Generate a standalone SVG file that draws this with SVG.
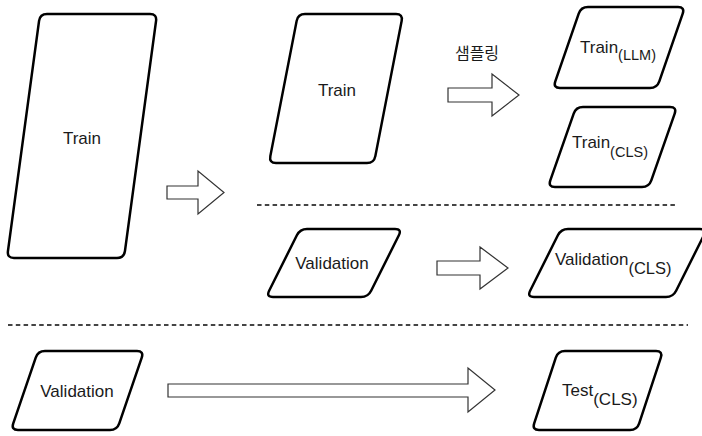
<svg xmlns="http://www.w3.org/2000/svg" width="702" height="436" viewBox="0 0 702 436">
<style>
.box{fill:#fff;stroke:#000;stroke-width:2.5;stroke-linejoin:round}
.arr{fill:#fff;stroke:#333;stroke-width:1.2;stroke-linejoin:miter}
.dash{stroke:#444;stroke-width:2;stroke-dasharray:4.5 3.3;fill:none}
text{font-family:"Liberation Sans",Arial,sans-serif;fill:#1a1a1a;font-size:17px}
.c{text-anchor:middle}
.kr{font-family:"Noto Sans CJK KR","Liberation Sans",sans-serif;font-size:16px}
</style>
<rect width="702" height="436" fill="#fff"/>
<g id="connectors">
<polygon class="arr" points="167,186 198,186 198,171 224,192.5 198,214 198,199 167,199"/>
<polygon class="arr" points="448,88 492,88 492,74 519,95 492,116 492,102 448,102"/>
<polygon class="arr" points="437,261 480,261 480,247 508,268 480,289 480,275 437,275"/>
<polygon class="arr" points="168,384 468,384 468,368 495,390 468,412 468,397 168,397"/>
<line class="dash" x1="257" y1="205" x2="678" y2="205"/>
<line class="dash" x1="8" y1="325" x2="688" y2="325"/>
<text class="kr c" x="477" y="59">샘플링</text>
</g>
<g id="train-all">
<path class="box" d="M47,14 H150 Q157,14 156.06,20.94 L124.94,251.06 Q124,258 117,258 H14 Q7,258 7.94,251.06 L39.06,20.94 Q40,14 47,14 Z"/>
<text class="c" x="82" y="144">Train</text>
</g>
<g id="train">
<path class="box" d="M305,14 H396 Q403,14 401.66,20.87 L375.34,156.13 Q374,163 367,163 H276 Q269,163 270.34,156.13 L296.66,20.87 Q298,14 305,14 Z"/>
<text class="c" x="337" y="96">Train</text>
</g>
<g id="train-llm">
<path class="box" d="M588,7 H678 Q685,7 682.71,13.62 L659.29,81.38 Q657,88 650,88 H560 Q553,88 555.29,81.38 L578.71,13.62 Q581,7 588,7 Z"/>
<text x="580" y="53">Train<tspan dy="7" font-size="14.5">(LLM)</tspan></text>
</g>
<g id="train-cls">
<path class="box" d="M583,107 H670 Q677,107 674.69,113.6 L651.31,180.4 Q649,187 642,187 H555 Q548,187 550.31,180.4 L573.69,113.6 Q576,107 583,107 Z"/>
<text x="572" y="148">Train<tspan dy="9" font-size="14.5">(CLS)</tspan></text>
</g>
<g id="validation">
<path class="box" d="M307,229 H395 Q402,229 398.87,235.26 L371.13,290.74 Q368,297 361,297 H273 Q266,297 269.13,290.74 L296.87,235.26 Q300,229 307,229 Z"/>
<text class="c" x="332" y="269">Validation</text>
</g>
<g id="validation-cls">
<path class="box" d="M568,229 H700 Q707,229 703.87,235.26 L676.13,290.74 Q673,297 666,297 H534 Q527,297 530.13,290.74 L557.87,235.26 Q561,229 568,229 Z"/>
<text x="555" y="265">Validation<tspan dy="9" font-size="16.5">(CLS)</tspan></text>
</g>
<g id="validation-test">
<path class="box" d="M45,351 H137 Q144,351 141.74,357.62 L119.26,423.38 Q117,430 110,430 H18 Q11,430 13.26,423.38 L35.74,357.62 Q38,351 45,351 Z"/>
<text class="c" x="77" y="397">Validation</text>
</g>
<g id="test-cls">
<path class="box" d="M565,351 H656 Q663,351 660.81,357.65 L639.19,423.35 Q637,430 630,430 H539 Q532,430 534.19,423.35 L555.81,357.65 Q558,351 565,351 Z"/>
<text x="562" y="396" font-size="14.5">Test<tspan dy="9" font-size="17">(CLS)</tspan></text>
</g>
</svg>
